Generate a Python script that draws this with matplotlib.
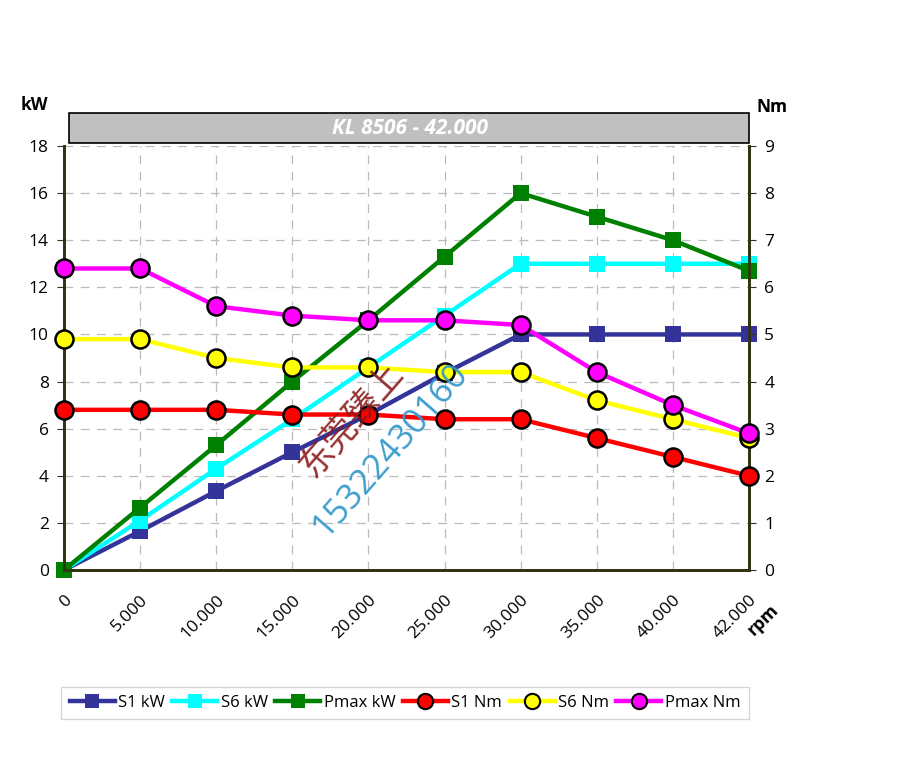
import matplotlib
matplotlib.use("Agg")
import matplotlib.pyplot as plt
from matplotlib.patches import Rectangle
from matplotlib.lines import Line2D

plt.rcParams['font.family'] = ['Open Sans', 'Noto Sans CJK SC', 'DejaVu Sans']

categories = ["0", "5.000", "10.000", "15.000", "20.000", "25.000", "30.000", "35.000", "40.000", "42.000"]
s1_kw = [0, 1.65, 3.35, 5.0, 6.6, 8.35, 10.0, 10.0, 10.0, 10.0]
s6_kw = [0, 2.1, 4.3, 6.4, 8.6, 10.8, 13.0, 13.0, 13.0, 13.0]
pmax_kw = [0, 2.65, 5.3, 8.0, 10.6, 13.3, 16.0, 15.0, 14.0, 12.7]
s1_nm = [3.4, 3.4, 3.4, 3.3, 3.3, 3.2, 3.2, 2.8, 2.4, 2.0]
s6_nm = [4.9, 4.9, 4.5, 4.3, 4.3, 4.2, 4.2, 3.6, 3.2, 2.8]
pmax_nm = [6.4, 6.4, 5.6, 5.4, 5.3, 5.3, 5.2, 4.2, 3.5, 2.9]
kw_ticks = [0, 2, 4, 6, 8, 10, 12, 14, 16, 18]
nm_ticks = [0, 1, 2, 3, 4, 5, 6, 7, 8, 9]
title = "KL 8506 - 42.000"

fig = plt.figure(figsize=(9, 7.65), dpi=100)
ax = fig.add_axes([64/900, 1-570/765, (749-64)/900, (570-146)/765])
ax2 = ax.twinx()

x = list(range(len(categories)))
spine_col = '#333311'

ax.set_xlim(0, len(categories)-1)
ax.set_ylim(0, 18)
ax2.set_ylim(0, 9)
ax.set_yticks(kw_ticks)
ax2.set_yticks(nm_ticks)
ax.set_xticks(x)
ax.set_xticklabels(categories, rotation=45, ha='right', va='top', rotation_mode='anchor', fontsize=12.5)
ax.tick_params(axis='x', length=0, pad=16)
ax.tick_params(axis='y', length=5, labelsize=12.5, color=spine_col, direction='out', pad=6)
ax2.tick_params(axis='y', length=5, labelsize=12.5, color=spine_col, direction='out', pad=6)

ax.grid(True, color='#bbbbbb', linestyle=(0, (7, 6)), linewidth=0.9)
ax.set_axisbelow(True)

for a in (ax, ax2):
    for s in ['left', 'right', 'bottom']:
        a.spines[s].set_color(spine_col)
        a.spines[s].set_linewidth(2)
    a.spines['top'].set_visible(False)

sq = dict(marker='s', markersize=11, linewidth=3.2, clip_on=False, markeredgewidth=0)
ax.plot(x, s1_kw, color='#333399', label='S1 kW', zorder=3, **sq)
ax.plot(x, s6_kw, color='#00ffff', label='S6 kW', zorder=3, **sq)
ax.plot(x, pmax_kw, color='#008000', label='Pmax kW', zorder=3, **sq)

ci = dict(marker='o', markersize=13, linewidth=3.2, clip_on=False, markeredgecolor='black', markeredgewidth=1.8)
ax2.plot(x, s1_nm, color='#ff0000', markerfacecolor='#ff0000', label='S1 Nm', zorder=4, **ci)
ax2.plot(x, s6_nm, color='#ffff00', markerfacecolor='#ffff00', label='S6 Nm', zorder=4, **ci)
ax2.plot(x, pmax_nm, color='#ff00ff', markerfacecolor='#ff00ff', label='Pmax Nm', zorder=4, **ci)

# title box
fig.patches.append(Rectangle((69/900, 1-143/765), (749-69)/900, 30/765, transform=fig.transFigure,
                             facecolor='#c0c0c0', edgecolor='black', linewidth=1.2))
fig.text(410/900, 1-128/765, title, color='white', fontsize=15, fontweight='bold', style='italic',
         ha='center', va='center')

fig.text(34/900, 1-105/765, 'kW', fontsize=12.5, fontweight='bold', ha='center', va='center')
fig.text(772/900, 1-107/765, 'Nm', fontsize=12.5, fontweight='bold', ha='center', va='center')
fig.text(763/900, 1-620/765, 'rpm', fontsize=12.5, fontweight='bold', ha='center', va='center', rotation=45)

# watermark
fig.text(352/900, 1-420/765, '东莞臻上', color='#8b1a1a', fontsize=25, rotation=49,
         ha='center', va='center', family=['Noto Sans CJK SC'], alpha=0.9)
fig.text(391/900, 1-450/765, '15322430160', color='#3399cc', fontsize=25, rotation=49,
         ha='center', va='center', alpha=0.95)

handles = [
    Line2D([], [], color='#333399', marker='s', markersize=10, linewidth=3.2, markeredgewidth=0),
    Line2D([], [], color='#00ffff', marker='s', markersize=10, linewidth=3.2, markeredgewidth=0),
    Line2D([], [], color='#008000', marker='s', markersize=10, linewidth=3.2, markeredgewidth=0),
    Line2D([], [], color='#ff0000', marker='o', markersize=11, linewidth=3.2, markeredgecolor='black', markeredgewidth=1.5),
    Line2D([], [], color='#ffff00', marker='o', markersize=11, linewidth=3.2, markeredgecolor='black', markeredgewidth=1.5),
    Line2D([], [], color='#ff00ff', marker='o', markersize=11, linewidth=3.2, markeredgecolor='black', markeredgewidth=1.5),
]
labels = ['S1 kW', 'S6 kW', 'Pmax kW', 'S1 Nm', 'S6 Nm', 'Pmax Nm']
leg = fig.legend(handles, labels, loc='center', bbox_to_anchor=(405/900, 1-703/765), ncol=6,
                 fontsize=12, frameon=True, fancybox=False, edgecolor='#cccccc',
                 handlelength=2.7, handletextpad=0.2, columnspacing=0.45, borderpad=0.5)
leg.get_frame().set_linewidth(1.0)

fig.savefig('out.png', dpi=100)
